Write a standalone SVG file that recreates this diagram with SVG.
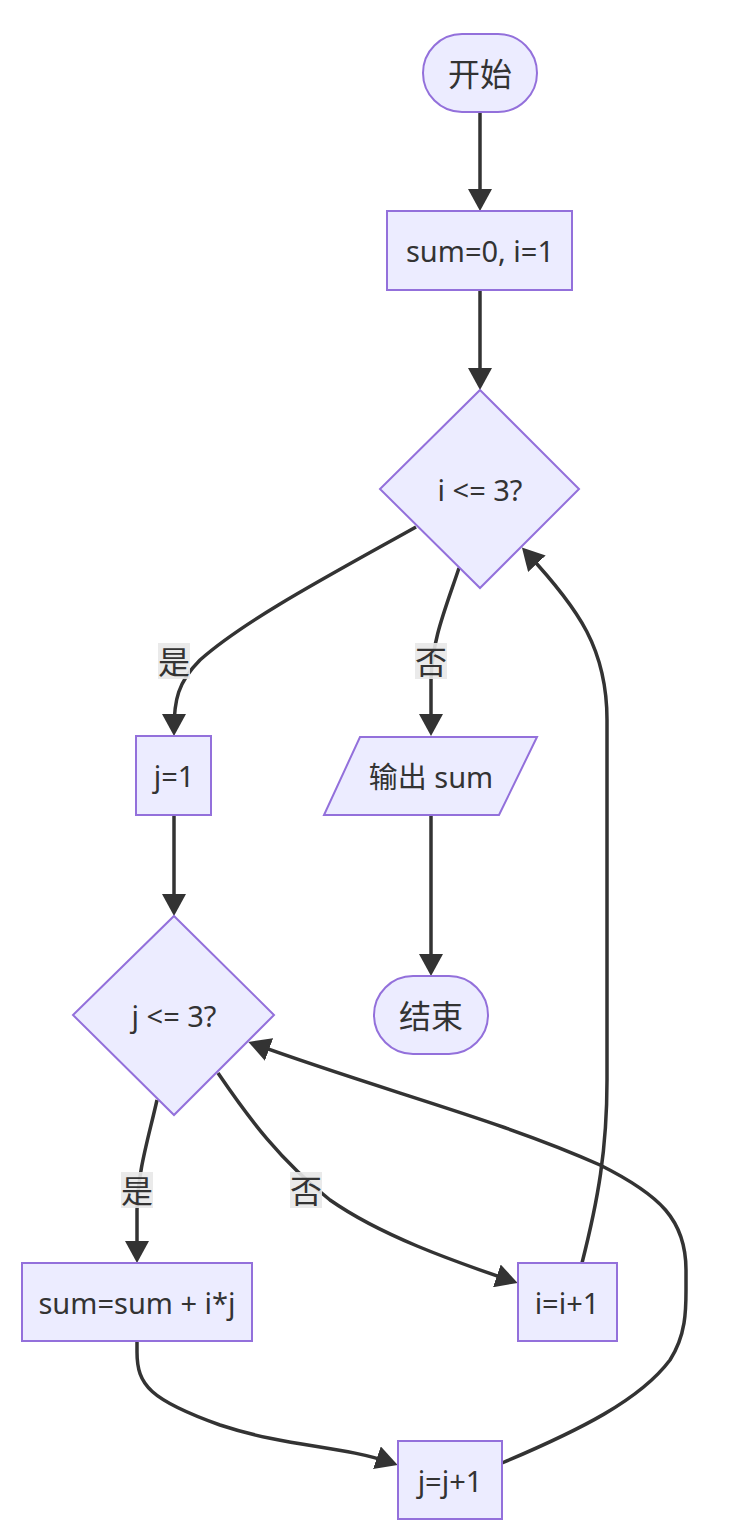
<svg xmlns="http://www.w3.org/2000/svg" width="746" height="1526" viewBox="0 0 746 1526">
<style>
.node{fill:#ECECFF;stroke:#9370DB;stroke-width:2}
.t{font-family:"Noto Sans","Noto Sans CJK SC",sans-serif;font-size:29px;fill:#333;text-anchor:middle;dominant-baseline:central}
.cjk{font-size:32px}
.e{fill:none;stroke:#333;stroke-width:3.5}
.lb{fill:#e8e8e8;opacity:0.9}
</style>
<defs>
<marker id="ah" markerUnits="userSpaceOnUse" markerWidth="22" markerHeight="24" viewBox="0 0 22 24" refX="16" refY="12" orient="auto">
<path d="M0,0 L22,12 L0,24 z" fill="#333"/>
</marker>
</defs>
<rect width="746" height="1526" fill="#fff"/>
<g id="connectors">
<path class="e" marker-end="url(#ah)" d="M480,112 L480,205"/>
<path class="e" marker-end="url(#ah)" d="M480,290 L480,384"/>
<path class="e" marker-end="url(#ah)" d="M416,527 C330,575 245,620 200,660 C178,682 174,700 174,730"/>
<path class="e" marker-end="url(#ah)" d="M459,568 C445,610 432,640 431,680 L431,730"/>
<path class="e" marker-end="url(#ah)" d="M431,815 L431,970"/>
<path class="e" marker-end="url(#ah)" d="M174,815 L174,910"/>
<path class="e" marker-end="url(#ah)" d="M157,1100 C148,1140 138,1170 137,1210 L137,1257"/>
<path class="e" marker-end="url(#ah)" d="M218,1073 C250,1120 280,1160 330,1200 C380,1235 450,1260 512,1281"/>
<path class="e" marker-end="url(#ah)" d="M582,1263 C598,1200 607,1150 607,1080 L607,720 C607,650 580,610 526,552"/>
<path class="e" marker-end="url(#ah)" d="M137,1341 L137,1352 C137,1385 150,1400 220,1425 C290,1448 340,1445 392,1463"/>
<path class="e" marker-end="url(#ah)" d="M502,1463 C580,1430 640,1400 670,1360 C686,1335 686,1310 686,1290 L686,1270 C686,1220 660,1195 600,1165 C500,1120 380,1090 254,1044"/>
<rect class="lb" x="158" y="643" width="32" height="36"/>
<text class="t cjk" x="174" y="661">是</text>
<rect class="lb" x="415" y="643" width="32" height="36"/>
<text class="t cjk" x="431" y="661">否</text>
<rect class="lb" x="121" y="1172" width="32" height="36"/>
<text class="t cjk" x="137" y="1190">是</text>
<rect class="lb" x="290" y="1172" width="32" height="36"/>
<text class="t cjk" x="306" y="1190">否</text>
</g>
<g id="start"><rect class="node" x="423" y="34" width="114" height="78" rx="39"/><text class="t cjk" x="480" y="73">开始</text></g>
<g id="init"><rect class="node" x="387" y="211" width="185" height="79"/><text class="t" x="480" y="250">sum=0, i=1</text></g>
<g id="condI"><polygon class="node" points="480,390 579,489 480,588 380,489"/><text class="t" x="480" y="489">i &lt;= 3?</text></g>
<g id="initJ"><rect class="node" x="136" y="736" width="75" height="79"/><text class="t" x="174" y="775">j=1</text></g>
<g id="output"><polygon class="node" points="360,737 537,737 499,815 324,815"/><text class="t" x="431" y="776">输出 sum</text></g>
<g id="condJ"><polygon class="node" points="174,916 274,1015 174,1115 73,1015"/><text class="t" x="174" y="1015">j &lt;= 3?</text></g>
<g id="end"><rect class="node" x="374" y="976" width="114" height="78" rx="39"/><text class="t cjk" x="431" y="1015">结束</text></g>
<g id="accum"><rect class="node" x="22" y="1263" width="230" height="78"/><text class="t" x="137" y="1302">sum=sum + i*j</text></g>
<g id="incI"><rect class="node" x="518" y="1263" width="99" height="78"/><text class="t" x="567" y="1302">i=i+1</text></g>
<g id="incJ"><rect class="node" x="398" y="1441" width="104" height="78"/><text class="t" x="450" y="1480">j=j+1</text></g>
</svg>
